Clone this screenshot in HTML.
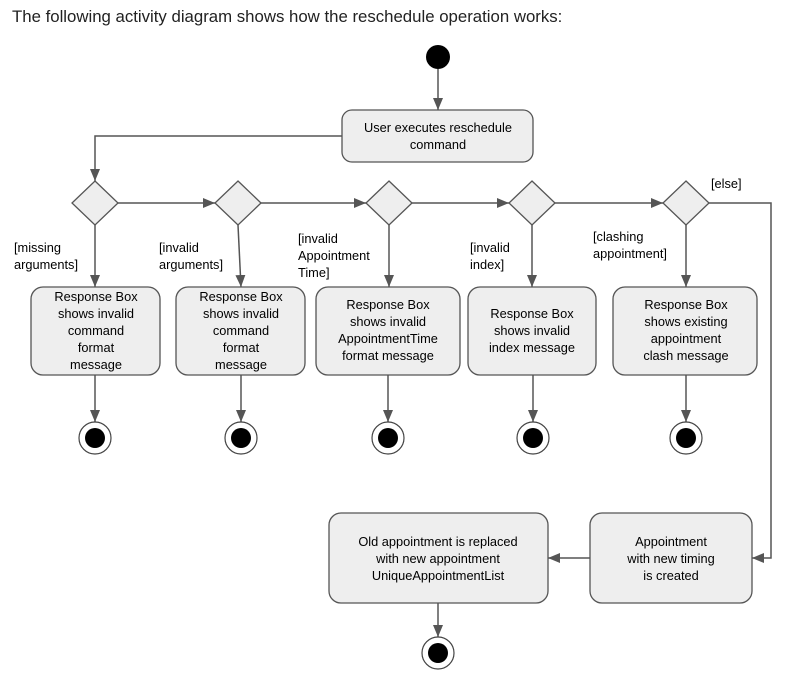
<!DOCTYPE html>
<html><head><meta charset="utf-8"><style>
html,body{margin:0;padding:0;background:#fff;}
body{width:788px;height:680px;overflow:hidden;position:relative;font-family:"Liberation Sans",sans-serif;}
.t{position:absolute;left:12px;top:7px;font-size:16.8px;color:#222;white-space:nowrap;}
svg{position:absolute;left:0;top:0;}
svg text{font-family:"Liberation Sans",sans-serif;font-size:12.8px;fill:#000;}
</style></head><body>
<div class="t">The following activity diagram shows how the reschedule operation works:</div>
<svg width="788" height="680" viewBox="0 0 788 680">
<defs><marker id="a" markerWidth="12" markerHeight="10" refX="12" refY="5" orient="auto" markerUnits="userSpaceOnUse"><path d="M0,0 L12,5 L0,10 Z" fill="#555"/></marker></defs>
<g stroke="#555" stroke-width="1.5" fill="none">
<line x1="438" y1="69" x2="438" y2="110" marker-end="url(#a)"/>
<polyline points="342,136 95,136 95,181" marker-end="url(#a)"/>
<line x1="118" y1="203" x2="215" y2="203" marker-end="url(#a)"/>
<line x1="261" y1="203" x2="366" y2="203" marker-end="url(#a)"/>
<line x1="412" y1="203" x2="509" y2="203" marker-end="url(#a)"/>
<line x1="555" y1="203" x2="663" y2="203" marker-end="url(#a)"/>
<polyline points="709,203 771,203 771,558 752,558" marker-end="url(#a)"/>
<line x1="590" y1="558" x2="548" y2="558" marker-end="url(#a)"/>
<line x1="95" y1="225" x2="95" y2="287" marker-end="url(#a)"/>
<line x1="238" y1="225" x2="241" y2="287" marker-end="url(#a)"/>
<line x1="389" y1="225" x2="389" y2="287" marker-end="url(#a)"/>
<line x1="532" y1="225" x2="532" y2="287" marker-end="url(#a)"/>
<line x1="686" y1="225" x2="686" y2="287" marker-end="url(#a)"/>
<line x1="95" y1="375" x2="95" y2="422" marker-end="url(#a)"/>
<line x1="241" y1="375" x2="241" y2="422" marker-end="url(#a)"/>
<line x1="388" y1="375" x2="388" y2="422" marker-end="url(#a)"/>
<line x1="533" y1="375" x2="533" y2="422" marker-end="url(#a)"/>
<line x1="686" y1="375" x2="686" y2="422" marker-end="url(#a)"/>
<line x1="438" y1="603" x2="438" y2="637" marker-end="url(#a)"/>
</g>
<circle cx="438" cy="57" r="12" fill="#000"/>
<g fill="#eee" stroke="#555" stroke-width="1.3">
<rect x="342" y="110" width="191" height="52" rx="10"/>
<polygon points="95,181 118,203 95,225 72,203"/>
<polygon points="238,181 261,203 238,225 215,203"/>
<polygon points="389,181 412,203 389,225 366,203"/>
<polygon points="532,181 555,203 532,225 509,203"/>
<polygon points="686,181 709,203 686,225 663,203"/>
<rect x="31" y="287" width="129" height="88" rx="12"/>
<rect x="176" y="287" width="129" height="88" rx="12"/>
<rect x="316" y="287" width="144" height="88" rx="12"/>
<rect x="468" y="287" width="128" height="88" rx="12"/>
<rect x="613" y="287" width="144" height="88" rx="12"/>
<rect x="329" y="513" width="219" height="90" rx="12"/>
<rect x="590" y="513" width="162" height="90" rx="12"/>
</g>
<g fill="#fff" stroke="#444" stroke-width="1.2">
<circle cx="95" cy="438" r="16"/><circle cx="241" cy="438" r="16"/><circle cx="388" cy="438" r="16"/><circle cx="533" cy="438" r="16"/><circle cx="686" cy="438" r="16"/><circle cx="438" cy="653" r="16"/>
</g>
<g fill="#000">
<circle cx="95" cy="438" r="10"/><circle cx="241" cy="438" r="10"/><circle cx="388" cy="438" r="10"/><circle cx="533" cy="438" r="10"/><circle cx="686" cy="438" r="10"/><circle cx="438" cy="653" r="10"/>
</g>
<g text-anchor="middle">
<text x="438" y="132">User executes reschedule</text><text x="438" y="149">command</text>
<text x="96" y="301">Response Box</text><text x="96" y="318">shows invalid</text><text x="96" y="335">command</text><text x="96" y="352">format</text><text x="96" y="369">message</text>
<text x="241" y="301">Response Box</text><text x="241" y="318">shows invalid</text><text x="241" y="335">command</text><text x="241" y="352">format</text><text x="241" y="369">message</text>
<text x="388" y="309">Response Box</text><text x="388" y="326">shows invalid</text><text x="388" y="343">AppointmentTime</text><text x="388" y="360">format message</text>
<text x="532" y="318">Response Box</text><text x="532" y="335">shows invalid</text><text x="532" y="352">index message</text>
<text x="686" y="309">Response Box</text><text x="686" y="326">shows existing</text><text x="686" y="343">appointment</text><text x="686" y="360">clash message</text>
<text x="438" y="546">Old appointment is replaced</text><text x="438" y="563">with new appointment</text><text x="438" y="580">UniqueAppointmentList</text>
<text x="671" y="546">Appointment</text><text x="671" y="563">with new timing</text><text x="671" y="580">is created</text>
</g>
<text x="14" y="252">[missing</text><text x="14" y="269">arguments]</text>
<text x="159" y="252">[invalid</text><text x="159" y="269">arguments]</text>
<text x="298" y="243">[invalid</text><text x="298" y="260">Appointment</text><text x="298" y="277">Time]</text>
<text x="470" y="252">[invalid</text><text x="470" y="269">index]</text>
<text x="593" y="241">[clashing</text><text x="593" y="258">appointment]</text>
<text x="711" y="188">[else]</text>
</svg>
</body></html>
